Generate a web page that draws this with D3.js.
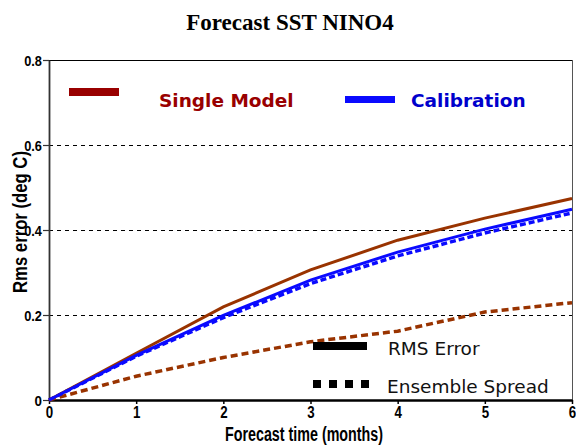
<!DOCTYPE html>
<html><head><meta charset="utf-8">
<script src="https://cdn.jsdelivr.net/npm/d3@7"></script>
<style>body{margin:0;background:#fff}svg{display:block}</style>
</head><body>
<svg id="c" width="576" height="448"></svg>
<script>
const months = [0, 1, 2, 3, 4, 5, 6];
const singleRms = [0, 0.110, 0.219, 0.306, 0.376, 0.428, 0.474];
const singleSpread = [0, 0.056, 0.100, 0.137, 0.162, 0.207, 0.229];
const calibRms = [0, 0.105, 0.199, 0.282, 0.348, 0.402, 0.449];
const calibSpread = [0, 0.103, 0.194, 0.274, 0.339, 0.393, 0.440];
const yTicks = [0, 0.2, 0.4, 0.6, 0.8];
const xTicks = [0, 1, 2, 3, 4, 5, 6];

const svg = d3.select("#c");
const L = 49, R = 572, T = 60, B = 400;
const x = d3.scaleLinear().domain([0, 6]).range([L, R]);
const y = d3.scaleLinear().domain([0, 0.8]).range([B, T]);
const sans = "'Liberation Sans',Arial,sans-serif";
const verd = "'DejaVu Sans',Verdana,sans-serif";
const brown = "#993300", blue = "#0a0aff", dred = "#990000", dblue = "#0000cc";
const narrowLen = s => s.split("").reduce((a, c) => a + (c === "." ? 3 : 7.4), 0);

// title
svg.append("text").attr("x", 290).attr("y", 30).attr("text-anchor", "middle")
  .attr("font-family", "'Liberation Serif','Times New Roman',serif").attr("font-weight", "bold")
  .attr("font-size", 23).text("Forecast SST NINO4");

// gridlines
svg.append("g").selectAll("line").data([0.2, 0.4, 0.6]).join("line")
  .attr("x1", L).attr("x2", R).attr("y1", d => y(d) + 0.5).attr("y2", d => y(d) + 0.5)
  .attr("stroke", "#000").attr("stroke-width", 1).attr("stroke-dasharray", "4,4");
// top and right borders
svg.append("line").attr("x1", L).attr("x2", R + 1).attr("y1", y(0.8) + 0.5).attr("y2", y(0.8) + 0.5).attr("stroke", "#000").attr("stroke-width", 1);
svg.append("line").attr("x1", R + 0.5).attr("x2", R + 0.5).attr("y1", T).attr("y2", B).attr("stroke", "#555").attr("stroke-width", 1);

// axes
const yAx = svg.append("g").attr("transform", `translate(${L},0)`)
  .call(d3.axisLeft(y).tickValues(yTicks).tickFormat(d => d === 0 ? "0" : d3.format(".1f")(d)).tickSize(6).tickSizeOuter(0));
yAx.select(".domain").attr("stroke", "#333").attr("stroke-width", 1.8);
yAx.selectAll(".tick line").attr("stroke", "#333").attr("stroke-width", 1.2);
yAx.selectAll("text").attr("font-family", sans).attr("font-weight", "bold").attr("font-size", 15.5).attr("fill", "#000")
  .attr("x", -7).attr("dy", "0.35em")
  .attr("textLength", function() { return narrowLen(this.textContent); }).attr("lengthAdjust", "spacingAndGlyphs");

const xAx = svg.append("g").attr("transform", `translate(0,${B})`)
  .call(d3.axisBottom(x).tickValues(xTicks).tickFormat(d3.format("d")).tickSize(4).tickSizeOuter(0));
xAx.select(".domain").attr("stroke", "#000").attr("stroke-width", 2.5);
xAx.selectAll(".tick line").attr("stroke", "#000").attr("stroke-width", 1.5);
xAx.selectAll("text").attr("font-family", sans).attr("font-weight", "bold").attr("font-size", 16).attr("fill", "#000")
  .attr("y", 7).attr("dy", "0.71em")
  .attr("textLength", function() { return narrowLen(this.textContent); }).attr("lengthAdjust", "spacingAndGlyphs");

// axis labels
svg.append("text").attr("transform", "translate(27,222) rotate(-90)").attr("text-anchor", "middle")
  .attr("font-family", sans).attr("font-weight", "bold").attr("font-size", 19.5)
  .attr("textLength", 142).attr("lengthAdjust", "spacingAndGlyphs").text("Rms error (deg C)");
svg.append("text").attr("x", 304).attr("y", 441).attr("text-anchor", "middle")
  .attr("font-family", sans).attr("font-weight", "bold").attr("font-size", 20)
  .attr("textLength", 158).attr("lengthAdjust", "spacingAndGlyphs").text("Forecast time (months)");

// lines
const line = d3.line().x((d, i) => x(months[i])).y(d => y(d));
const series = [
  {v: singleSpread, c: brown, dash: "7,4", w: 3.5},
  {v: calibSpread, c: blue, dash: "6,3", w: 3.5},
  {v: singleRms, c: brown, dash: null, w: 3},
  {v: calibRms, c: blue, dash: null, w: 3}
];
svg.append("g").selectAll("path").data(series).join("path")
  .attr("d", d => line(d.v)).attr("fill", "none").attr("stroke", d => d.c)
  .attr("stroke-width", d => d.w).attr("stroke-dasharray", d => d.dash);

// legend top
svg.append("rect").attr("x", 69).attr("y", 88).attr("width", 50).attr("height", 8).attr("fill", dred);
svg.append("text").attr("x", 159).attr("y", 107).attr("font-family", verd)
  .attr("font-weight", "bold").attr("font-size", 18.5).attr("fill", dred).text("Single Model");
svg.append("rect").attr("x", 345).attr("y", 96).attr("width", 50).attr("height", 7).attr("fill", blue);
svg.append("text").attr("x", 411).attr("y", 107).attr("font-family", verd)
  .attr("font-weight", "bold").attr("font-size", 18.5).attr("fill", dblue).text("Calibration");

// legend bottom
svg.append("rect").attr("x", 313).attr("y", 342).attr("width", 54).attr("height", 8).attr("fill", "#000");
svg.append("text").attr("x", 388).attr("y", 355).attr("font-family", verd)
  .attr("font-size", 18.5).attr("fill", "#111").text("RMS Error");
svg.append("g").selectAll("rect").data([0, 1, 2, 3]).join("rect")
  .attr("x", d => 313 + d * 16).attr("y", 380).attr("width", 8).attr("height", 8).attr("fill", "#000");
svg.append("text").attr("x", 387).attr("y", 393).attr("font-family", verd)
  .attr("font-size", 18.5).attr("fill", "#111").text("Ensemble Spread");
</script>
</body></html>
